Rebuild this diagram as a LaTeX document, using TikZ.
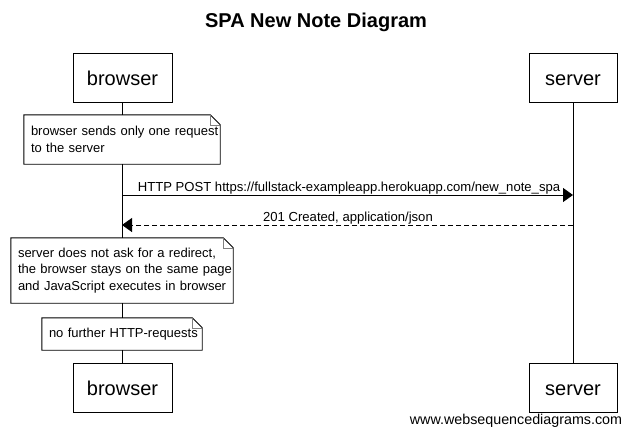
\documentclass[tikz,border=0pt]{standalone}
\usepackage{fontspec}
\setmainfont{Liberation Sans}
\usetikzlibrary{arrows.meta}
\begin{document}
\begin{tikzpicture}[x=1pt,y=-1pt,
  actor/.style={draw=black,fill=white,line width=0.9pt,minimum width=99pt,minimum height=49pt,inner sep=0pt,text height=16pt,text depth=1pt,font=\fontsize{20}{24}\selectfont},
  notebox/.style={fill=white,inner xsep=7pt,inner ysep=0pt,align=left,font=\fontsize{13}{16.5}\selectfont},
  msg/.style={line width=0.9pt,-{Triangle[length=10pt,width=14pt]}},
  lbl/.style={font=\fontsize{13.1}{15}\selectfont,inner sep=0pt},
  life/.style={line width=0.9pt}]
\useasboundingbox (0,0) rectangle (631,437);
\node[font=\bfseries\fontsize{20}{24}\selectfont] (title) at (316,22) {SPA New Note Diagram};
\node[actor] (bt) at (122.5,77.5) {browser};
\node[actor,minimum width=88pt] (st) at (573,77.5) {server};
\node[actor] (bb) at (122.5,387.5) {browser};
\node[actor,minimum width=88pt] (sb) at (573,387.5) {server};
\draw[life] (bt.south) -- (bb.north);
\draw[life] (st.south) -- (sb.north);
% notes
\newcommand{\drawnote}[1]{%
  \draw[line width=0.9pt] (#1.north west) -- ([xshift=-10pt]#1.north east) -- ([yshift=-10pt]#1.north east) -- (#1.south east) -- (#1.south west) -- cycle;
  \draw[gray,line width=0.6pt] ([xshift=-10pt]#1.north east) -- ([xshift=-10pt,yshift=-10pt]#1.north east) -- ([yshift=-10pt]#1.north east);}
\node[notebox,minimum width=196pt,minimum height=49pt,text width=182pt] (n1) at (122,139.5) {\mbox{browser sends only one request}\\\mbox{to the server}};
\drawnote{n1}
\coordinate (b1) at (122,195); \coordinate (s1) at (573,195);
\coordinate (b2) at (122,225); \coordinate (s2) at (573,225);
\draw[msg] (b1) -- (s1);
\node[lbl,anchor=base] (l1) at (349,191) {HTTP POST https://fullstack-exampleapp.herokuapp.com/new\_note\_spa};
\draw[msg,dashed,dash pattern=on 5pt off 3pt] (s2) -- (b2);
\node[lbl,anchor=base] (l2) at (348,221) {201 Created, application/json};
\node[notebox,minimum width=222pt,minimum height=65pt,text width=208pt] (n2) at (122,270.5) {\mbox{server does not ask for a redirect,}\\\mbox{the browser stays on the same page}\\\mbox{and JavaScript executes in browser}};
\drawnote{n2}
\node[notebox,minimum width=160pt,minimum height=32pt,text width=146pt] (n3) at (122,334) {\mbox{no further HTTP-requests}};
\drawnote{n3}
\node[font=\fontsize{14.3}{16}\selectfont,inner sep=0pt] (wm) at (516,421) {www.websequencediagrams.com};
\end{tikzpicture}
\end{document}
